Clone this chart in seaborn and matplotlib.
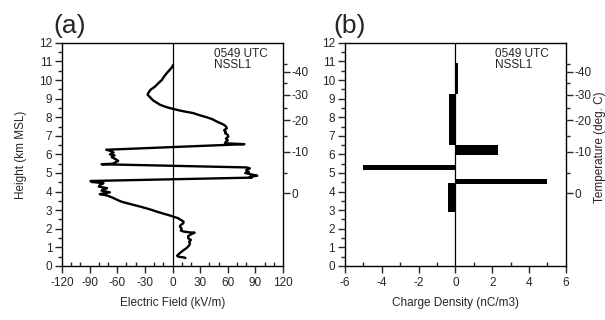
import matplotlib
matplotlib.use("Agg")
import matplotlib.pyplot as plt
import seaborn as sns
import pandas as pd

# electric field sounding
height = [10.8, 10.73, 10.55, 10.37, 10.2, 10.0, 9.85, 9.65, 9.47, 9.29, 9.2, 9.11, 9.0, 8.9,
          8.78, 8.67, 8.55, 8.49, 8.42, 8.36, 8.3, 8.22, 8.1, 8.0, 7.9, 7.77, 7.68, 7.59, 7.5,
          7.41, 7.3, 7.2, 7.14, 7.05, 6.96, 6.85, 6.75, 6.69, 6.6, 6.55, 6.25, 6.2, 6.1, 6.0,
          5.95, 5.85, 5.75, 5.65, 5.55, 5.5, 5.47, 5.3, 5.25, 5.15, 5.05, 5.0, 4.92, 4.85, 4.8,
          4.75, 4.57, 4.52, 4.45, 4.35, 4.27, 4.18, 4.1, 4.05, 3.96, 3.9, 3.86, 3.8, 3.77, 3.65,
          3.55, 3.45, 3.37, 3.28, 3.19, 3.05, 2.92, 2.8, 2.7, 2.65, 2.57, 2.48, 2.38, 2.3, 2.2,
          2.12, 2.0, 1.9, 1.85, 1.8, 1.79, 1.7, 1.6, 1.49, 1.4, 1.3, 1.22, 1.1, 0.95, 0.85, 0.77,
          0.65, 0.55, 0.5, 0.45, 0.42]
efield = [0.5, 0, -3, -6.3, -9, -11.7, -15, -19, -24, -26.5, -27, -25, -23, -21,
          -17, -13.6, -7, -2.7, 3, 8, 14, 22.6, 30, 37, 43, 48, 52, 56, 58,
          59, 56, 58, 57, 60, 60.6, 58, 60, 58, 57, 78, -72, -68, -64, -68,
          -63, -66, -62, -59, -63, -65, -77, 80, 84, 80, 83, 79, 86, 92, 84,
          86, -89, -88, -75, -79, -80, -71, -76, -77, -68, -75, -79, -72, -70, -64,
          -60, -55, -49, -42, -35, -25, -17, -9, -2, 1, 6, 9, 12, 11.7, 9,
          8, 10, 9, 12, 19, 24, 20, 17, 17, 20, 18, 19, 18, 15, 12, 10,
          7, 5, 6, 13, 14]

# charge density layers, panel (b)
layer_bottom = [9.23, 6.5, 5.97, 5.16, 4.4, 2.92]
layer_top = [10.93, 9.23, 6.5, 5.43, 4.7, 4.45]
charge = [0.15, -0.35, 2.33, -5.04, 5.0, -0.4]

# temperature scale (right axes)
temp_labels = ["0", "-10", "-20", "-30", "-40"]
temp_heights = [3.9, 6.15, 7.85, 9.2, 10.45]
temp_minor_heights = [5.0, 7.0, 8.5, 9.85, 10.85]

height_ticks = list(range(0, 13))
efield_ticks = [-120, -90, -60, -30, 0, 30, 60, 90, 120]
charge_ticks = [-6, -4, -2, 0, 2, 4, 6]

sns.set_style("ticks")
plt.rcParams["font.family"] = ["Liberation Sans", "DejaVu Sans"]
plt.rcParams["font.size"] = 8

fig = plt.figure(figsize=(6.05, 3.2), dpi=100)
ax_a = fig.add_axes([0.1025, 0.169, 0.3653, 0.697])
ax_b = fig.add_axes([0.570, 0.169, 0.3653, 0.697])

df = pd.DataFrame({"E": efield, "h": height})
sns.lineplot(data=df, x="E", y="h", sort=False, estimator=None, color="black",
             linewidth=1.7, ax=ax_a)

for b, t, c in zip(layer_bottom, layer_top, charge):
    ax_b.barh(b, c, height=t - b, align="edge", color="black", edgecolor="black", linewidth=0)


def style_axes(ax, xlim, xticks, xminor):
    ax.set_xlim(*xlim)
    ax.set_ylim(0, 12)
    ax.axvline(0, color="black", linewidth=0.9)
    ax.set_xticks(xticks)
    ax.set_xticklabels([str(v) for v in xticks])
    ax.set_xticks(xminor, minor=True)
    ax.set_yticks(height_ticks)
    ax.set_yticks([v + 0.5 for v in height_ticks[:-1]], minor=True)
    for s in ax.spines.values():
        s.set_visible(True)
        s.set_linewidth(1.0)
        s.set_color("black")
    ax.tick_params(axis="x", which="major", direction="out", length=5, width=1, labelsize=8.5, pad=3)
    ax.tick_params(axis="x", which="minor", direction="in", length=3, width=1)
    ax.tick_params(axis="y", which="major", direction="out", length=5, width=1, labelsize=8.5, pad=2)
    ax.tick_params(axis="y", which="minor", direction="out", length=3, width=1)
    ax.set_xlabel("")
    ax.set_ylabel("")

    tw = ax.twinx()
    tw.set_ylim(0, 12)
    tw.set_yticks(temp_heights)
    tw.set_yticklabels(temp_labels)
    tw.set_yticks(temp_minor_heights, minor=True)
    tw.tick_params(axis="y", which="major", direction="out", length=5, width=1, labelsize=8.5, pad=1)
    tw.tick_params(axis="y", which="minor", direction="out", length=3, width=1)
    for s in tw.spines.values():
        s.set_visible(False)
    return tw


style_axes(ax_a, (-120, 120), efield_ticks, list(range(-110, 120, 10)))
style_axes(ax_b, (-6, 6), charge_ticks, [-5, -3, -1, 1, 3, 5])

ax_a.set_xlabel("Electric Field (kV/m)", fontsize=8.5, labelpad=6)
ax_a.set_ylabel("Height (km MSL)", fontsize=8.5, labelpad=9)
ax_b.set_xlabel("Charge Density (nC/m3)", fontsize=8.5, labelpad=6)
fig.text(0.9925, 0.54, "Temperature (deg. C)", rotation=90, ha="center", va="center", fontsize=8.5)

for ax, x in [(ax_a, 45), (ax_b, 2.15)]:
    ax.text(x, 11.72, "0549 UTC\nNSSL1", ha="left", va="top", fontsize=8.5, linespacing=0.9)

fig.text(0.088, 0.882, "(a)", fontsize=19, ha="left", va="bottom")
fig.text(0.551, 0.882, "(b)", fontsize=19, ha="left", va="bottom")

fig.savefig("out.png", dpi=100)
